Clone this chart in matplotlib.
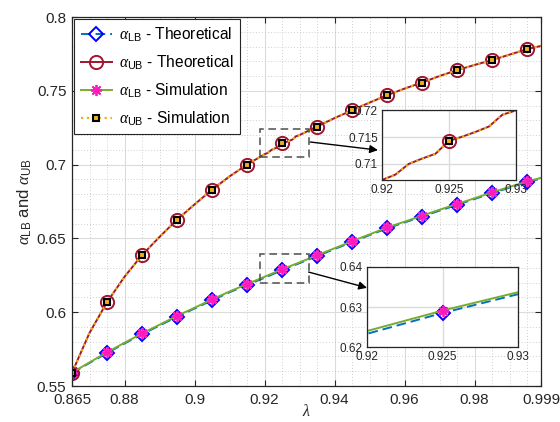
import numpy as np
import matplotlib
matplotlib.use("Agg")
import matplotlib.pyplot as plt
from matplotlib.patches import Rectangle
from matplotlib.ticker import MultipleLocator

plt.rcParams['font.family'] = ['Liberation Sans', 'DejaVu Sans']
plt.rcParams['mathtext.fontset'] = 'custom'
plt.rcParams['mathtext.rm'] = 'Liberation Sans'
plt.rcParams['mathtext.it'] = 'Liberation Serif:italic'
plt.rcParams['mathtext.bf'] = 'Liberation Sans:bold'

# ---------------- data ----------------
# lower bound curves (grid of 0.005, last point 0.999)
x_lb = [0.865, 0.87, 0.875, 0.88, 0.885, 0.89, 0.895, 0.9, 0.905, 0.91, 0.915, 0.92, 0.925,
        0.93, 0.935, 0.94, 0.945, 0.95, 0.955, 0.96, 0.965, 0.97, 0.975, 0.98, 0.985, 0.99,
        0.995, 0.999]
lb_theo = [0.5588, 0.5656, 0.5723, 0.5788, 0.5850, 0.5910, 0.5968, 0.6025, 0.6080, 0.6135,
           0.6185, 0.6233, 0.6285, 0.6332, 0.6380, 0.6428, 0.6475, 0.6522, 0.6568, 0.6608,
           0.6648, 0.6688, 0.6727, 0.6767, 0.6806, 0.6844, 0.6881, 0.6905]
lb_sim = [0.5590, 0.5660, 0.5728, 0.5793, 0.5856, 0.5915, 0.5975, 0.6030, 0.6087, 0.6140,
          0.6191, 0.6240, 0.6291, 0.6337, 0.6386, 0.6433, 0.6481, 0.6527, 0.6574, 0.6613,
          0.6654, 0.6694, 0.6733, 0.6772, 0.6812, 0.6849, 0.6886, 0.6910]

# upper bound curves (finer around the zoomed region)
x_ub = [0.865, 0.87, 0.875, 0.88, 0.885, 0.89, 0.895, 0.9, 0.905, 0.91, 0.915, 0.92, 0.921,
        0.922, 0.923, 0.924, 0.925, 0.926, 0.927, 0.928, 0.929, 0.93, 0.935, 0.94, 0.945,
        0.95, 0.955, 0.96, 0.965, 0.97, 0.975, 0.98, 0.985, 0.99, 0.995, 0.999]
ub_theo = [0.5590, 0.5860, 0.6068, 0.6240, 0.6387, 0.6510, 0.6627, 0.6730, 0.6830, 0.6920,
           0.7000, 0.7070, 0.7080, 0.7100, 0.7110, 0.7119, 0.7143, 0.7151, 0.7160, 0.7170,
           0.7192, 0.7200, 0.7258, 0.7315, 0.7368, 0.7420, 0.7470, 0.7515, 0.7556, 0.7600,
           0.7640, 0.7675, 0.7708, 0.7745, 0.7782, 0.7804]
ub_sim = [0.5590, 0.5860, 0.6068, 0.6240, 0.6387, 0.6510, 0.6627, 0.6730, 0.6830, 0.6920,
          0.7000, 0.7070, 0.7080, 0.7100, 0.7110, 0.7119, 0.7143, 0.7151, 0.7160, 0.7170,
          0.7192, 0.7200, 0.7258, 0.7315, 0.7368, 0.7420, 0.7470, 0.7515, 0.7556, 0.7600,
          0.7640, 0.7675, 0.7708, 0.7745, 0.7782, 0.7804]

# marker positions (every 0.01)
x_marks = [0.865, 0.875, 0.885, 0.895, 0.905, 0.915, 0.925, 0.935, 0.945, 0.955, 0.965,
           0.975, 0.985, 0.995]

xticks = [0.865, 0.88, 0.9, 0.92, 0.94, 0.96, 0.98, 0.999]
xticklabels = ['0.865', '0.88', '0.9', '0.92', '0.94', '0.96', '0.98', '0.999']
yticks = [0.55, 0.6, 0.65, 0.7, 0.75, 0.8]
yticklabels = ['0.55', '0.6', '0.65', '0.7', '0.75', '0.8']

labels = [r'$\alpha_{\rm LB}$ - Theoretical', r'$\alpha_{\rm UB}$ - Theoretical',
          r'$\alpha_{\rm LB}$ - Simulation', r'$\alpha_{\rm UB}$ - Simulation']

# ---------------- styles ----------------
C_BLUE = (0.0, 0.447, 0.741)
C_RED = (0.635, 0.078, 0.184)
C_GREEN = (0.466, 0.674, 0.188)
C_ORANGE = (0.929, 0.694, 0.125)
AX_COL = (0.15, 0.15, 0.15)


def mark_idx(xs):
    return [i for i, x in enumerate(xs) if any(abs(x - m) < 1e-9 for m in x_marks)]


def draw_curves(ax):
    h1, = ax.plot(x_lb, lb_theo, '--', color=C_BLUE, lw=1.4, marker='D', ms=7,
                  mfc='none', mec=(0, 0, 1), mew=1.4, markevery=mark_idx(x_lb),
                  dashes=(5, 2.5))
    h2, = ax.plot(x_ub, ub_theo, '-', color=C_RED, lw=1.4, marker='o', ms=9.5,
                  mfc='none', mec=C_RED, mew=1.4, markevery=mark_idx(x_ub))
    h3, = ax.plot(x_lb, lb_sim, '-', color=C_GREEN, lw=1.4, marker=(8, 2, 0), ms=8,
                  mec=(1, 0.1, 0.75), mew=1.3, markevery=mark_idx(x_lb))
    h4, = ax.plot(x_ub, ub_sim, ':', color=C_ORANGE, lw=1.6, marker='s', ms=4.5,
                  mfc=C_ORANGE, mec='black', mew=1.5, markevery=mark_idx(x_ub))
    return [h1, h2, h3, h4]


def style_axes(ax, fs):
    for s in ax.spines.values():
        s.set_color(AX_COL)
        s.set_linewidth(0.9)
    ax.tick_params(which='both', direction='in', top=True, right=True, colors=AX_COL,
                   labelcolor=AX_COL, labelsize=fs)
    ax.tick_params(which='major', length=4, width=0.8)
    ax.set_axisbelow(True)


fig = plt.figure(figsize=(5.6, 4.22), dpi=100)
ax = fig.add_axes([0.1286, 0.0853, 0.8375, 0.8744])
handles = draw_curves(ax)
ax.set_xlim(0.865, 0.999)
ax.set_ylim(0.55, 0.8)
ax.set_xticks(xticks)
ax.set_xticklabels(xticklabels)
ax.set_yticks(yticks)
ax.set_yticklabels(yticklabels)
ax.xaxis.set_minor_locator(MultipleLocator(0.005))
ax.yaxis.set_minor_locator(MultipleLocator(0.01))
style_axes(ax, 11)
ax.tick_params(which='minor', length=0)
ax.tick_params(axis='y', which='major', pad=4)
ax.tick_params(axis='x', which='major', pad=5)
ax.grid(which='major', color=(0.86, 0.86, 0.86), lw=0.8, ls='-')
ax.grid(which='minor', color=(0.75, 0.75, 0.75), lw=0.6, ls=(0, (1, 2.5)))
ax.set_xlabel(r'$\lambda$', fontsize=11.5, color=AX_COL, labelpad=-2.5)
ax.set_ylabel(r'$\alpha_{\rm LB}$ and $\alpha_{\rm UB}$', fontsize=12, color=AX_COL,
              labelpad=2)

leg = ax.legend(handles, labels, loc='upper left', fontsize=11.2, frameon=True,
                fancybox=False, edgecolor=AX_COL, handlelength=2.0, handletextpad=0.45,
                labelspacing=0.62, borderpad=0.4, borderaxespad=0.15, framealpha=1)
leg.get_frame().set_linewidth(0.8)

# zoom rectangles
ax.add_patch(Rectangle((0.9186, 0.7054), 0.014, 0.019, fill=False, ec=(0.3, 0.3, 0.3),
                       lw=1.1, ls=(0, (5, 3)), zorder=6))
ax.add_patch(Rectangle((0.9186, 0.6196), 0.014, 0.0196, fill=False, ec=(0.3, 0.3, 0.3),
                       lw=1.1, ls=(0, (5, 3)), zorder=6))

# insets
ins1 = fig.add_axes([0.6821, 0.5735, 0.2388, 0.1647])
draw_curves(ins1)
ins1.set_xlim(0.92, 0.93)
ins1.set_ylim(0.707, 0.72)
ins1.set_xticks([0.92, 0.925, 0.93])
ins1.set_xticklabels(['0.92', '0.925', '0.93'])
ins1.set_yticks([0.71, 0.715, 0.72])
ins1.set_yticklabels(['0.71', '0.715', '0.72'])
style_axes(ins1, 8.5)
ins1.tick_params(length=0, pad=3)
ins1.grid(True, color=(0.86, 0.86, 0.86), lw=1.0)

ins2 = fig.add_axes([0.6554, 0.1777, 0.2696, 0.1896])
draw_curves(ins2)
ins2.set_xlim(0.92, 0.93)
ins2.set_ylim(0.62, 0.64)
ins2.set_xticks([0.92, 0.925, 0.93])
ins2.set_xticklabels(['0.92', '0.925', '0.93'])
ins2.set_yticks([0.62, 0.63, 0.64])
ins2.set_yticklabels(['0.62', '0.63', '0.64'])
style_axes(ins2, 8.5)
ins2.tick_params(length=0, pad=3)
ins2.grid(True, color=(0.86, 0.86, 0.86), lw=1.0)

# arrows
ax.annotate('', xy=(-0.03, 0.43), xycoords=ins1.transAxes, xytext=(0.9331, 0.7153),
            textcoords='data',
            arrowprops=dict(arrowstyle='-|>', color='black', lw=1.0, mutation_scale=12,
                            shrinkA=0, shrinkB=0), zorder=7)
ax.annotate('', xy=(0.0, 0.74), xycoords=ins2.transAxes, xytext=(0.9326, 0.6272),
            textcoords='data',
            arrowprops=dict(arrowstyle='-|>', color='black', lw=1.0, mutation_scale=12,
                            shrinkA=0, shrinkB=0), zorder=7)

fig.savefig('out.png', dpi=100)
